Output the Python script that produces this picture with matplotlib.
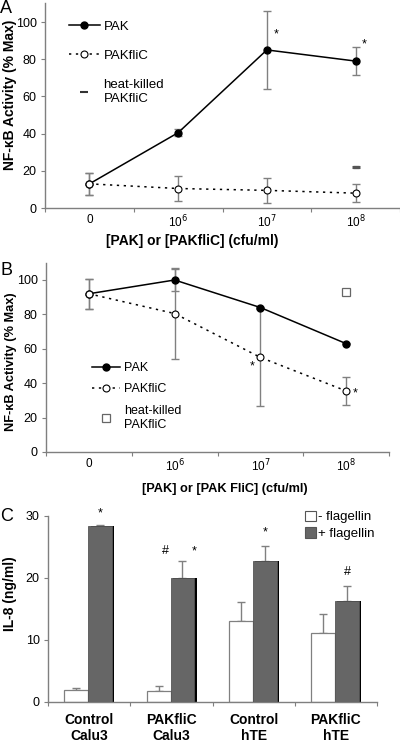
import matplotlib
matplotlib.use('Agg')
import matplotlib.pyplot as plt
import numpy as np
from matplotlib.lines import Line2D
from matplotlib.patches import Patch

plt.rcParams['font.family'] = ['Liberation Sans', 'DejaVu Sans']
plt.rcParams['font.size'] = 9

# ---- data ----
dose_labels = ['0', '10$^6$', '10$^7$', '10$^8$']

# panel A
a_pak = [13, 40.5, 85, 79]
a_pak_err = [6, 2, 21, 7.5]
a_flic = [13, 10.5, 9.5, 8]
a_flic_err = [6, 6.8, 6.8, 5]
a_hk = [22]
a_hk_err = [0.6]

# panel B
b_pak = [92, 100, 84, 63]
b_pak_err = [8.7, 6.5, 0.5, 0.5]
b_flic = [92, 80.5, 55, 35.5]
b_flic_err = [8.7, 26.5, 28, 8]
b_hk = [93]
b_hk_err = [2]

# panel C
c_groups = ['Control\nCalu3', 'PAKfliC\nCalu3', 'Control\nhTE', 'PAKfliC\nhTE']
c_minus = [2.0, 1.7, 13.1, 11.1]
c_minus_err = [0.3, 0.8, 3.0, 3.1]
c_plus = [28.3, 20.0, 22.7, 16.3]
c_plus_err = [0.2, 2.7, 2.4, 2.4]

axis_col = '#7f7f7f'
err_col = '#808080'


def style_axes(ax, ymax, yticks):
    for s in ['top', 'right']:
        ax.spines[s].set_visible(False)
    for s in ['left', 'bottom']:
        ax.spines[s].set_color(axis_col)
        ax.spines[s].set_linewidth(1)
    ax.set_ylim(0, ymax)
    ax.set_yticks(yticks)
    ax.set_xlim(-0.5, 3.5)
    ax.set_xticks([-0.5, 0.5, 1.5, 2.5, 3.5])
    ax.set_xticklabels([])
    ax.tick_params(axis='both', which='major', direction='out', length=3,
                   color=axis_col, labelsize=9, pad=3)
    ax.tick_params(axis='x', which='minor', length=0, pad=4, labelsize=8.5)


def dose_panel(ax, pak, pak_err, flic, flic_err, hk, hk_err, hk_marker, xlabel, lab_fs):
    x = np.arange(len(pak))
    ax.errorbar(x, pak, yerr=pak_err, fmt='none', ecolor=err_col, elinewidth=1,
                capsize=3, zorder=2)
    ax.errorbar(x, flic, yerr=flic_err, fmt='none', ecolor=err_col, elinewidth=1,
                capsize=3, zorder=2)
    ax.plot(x, pak, '-', color='black', lw=1.1, marker='o', ms=5,
            mfc='black', mec='black', zorder=3)
    ax.plot(x, flic, color='black', lw=1.1, ls=(0, (1.5, 3)), marker='o', ms=5,
            mfc='white', mec='black', mew=0.8, zorder=3)
    hx = [3]
    ax.errorbar(hx, hk, yerr=hk_err, fmt='none', ecolor=err_col, elinewidth=1,
                capsize=2.5, zorder=2)
    if hk_marker == '_':
        ax.plot(hx, hk, ls='none', marker='_', ms=6, mew=2.2, color='#555555', zorder=3)
    else:
        ax.plot(hx, hk, ls='none', marker='s', ms=5.5, mfc='white', mec='#666666',
                mew=0.9, zorder=3)
    style_axes(ax, 110, [0, 20, 40, 60, 80, 100])
    ax.set_xticks(x, minor=True)
    ax.set_xticklabels(dose_labels, minor=True)
    ax.set_xlabel(xlabel, fontsize=lab_fs, fontweight='bold')
    ax.set_ylabel('NF-κB Activity (% Max)', fontsize=lab_fs, fontweight='bold')


fig = plt.figure(figsize=(4.0, 7.43), dpi=100)

# ---- panel A ----
axA = fig.add_axes([0.1125, 0.720, 0.8875, 0.2754])
dose_panel(axA, a_pak, a_pak_err, a_flic, a_flic_err, a_hk, a_hk_err, '_',
           '[PAK] or [PAKfliC] (cfu/ml)', 10)
axA.xaxis.set_label_coords(0.414, -0.125)
axA.yaxis.set_label_coords(-0.079, 0.552)
axA.text(2.1, 93.5, '*', ha='center', va='center', fontsize=9)
axA.text(3.1, 88, '*', ha='center', va='center', fontsize=9)
hA = [Line2D([], [], color='black', lw=1.1, marker='o', ms=5, mfc='black'),
      Line2D([], [], color='black', lw=1.1, ls=(0, (1.5, 3)), marker='o', ms=5,
             mfc='white', mew=0.8),
      Line2D([], [], ls='none', marker='_', ms=6, mew=1.5, color='#333333')]
axA.legend(hA, ['PAK', 'PAKfliC', 'heat-killed\nPAKfliC'], loc='upper left',
           bbox_to_anchor=(0.035, 0.975), frameon=False, fontsize=9.5,
           handlelength=2.3, handletextpad=0.3, labelspacing=1.3)
fig.text(0.0, 1.0, 'A', fontsize=13, ha='left', va='top')

# ---- panel B ----
axB = fig.add_axes([0.115, 0.3917, 0.8575, 0.2546])
dose_panel(axB, b_pak, b_pak_err, b_flic, b_flic_err, b_hk, b_hk_err, 's',
           '[PAK] or [PAK FliC] (cfu/ml)', 9.2)
axB.xaxis.set_label_coords(0.52, -0.165)
axB.yaxis.set_label_coords(-0.084, 0.476)
axB.text(1.9, 49.5, '*', ha='center', va='center', fontsize=9)
axB.text(3.1, 34, '*', ha='center', va='center', fontsize=9)
hB = [Line2D([], [], color='black', lw=1.1, marker='o', ms=5, mfc='black'),
      Line2D([], [], color='black', lw=1.1, ls=(0, (1.5, 3)), marker='o', ms=5,
             mfc='white', mew=0.8),
      Line2D([], [], ls='none', marker='s', ms=5.5, mfc='white', mec='#666666', mew=0.9)]
axB.legend(hB, ['PAK', 'PAKfliC', 'heat-killed\nPAKfliC'], loc='upper left',
           bbox_to_anchor=(0.1, 0.535), frameon=False, fontsize=9,
           handlelength=2.3, handletextpad=0.3, labelspacing=0.75)
fig.text(0.0, 0.648, 'B', fontsize=13, ha='left', va='top')

# ---- panel C ----
axC = fig.add_axes([0.12, 0.0552, 0.8225, 0.2507])
xc = np.arange(len(c_groups))
w = 0.29
axC.bar(xc - 0.155, c_minus, w, color='white', edgecolor=err_col, lw=0.9, zorder=2)
axC.errorbar(xc - 0.155, c_minus, yerr=[np.zeros(4), c_minus_err], fmt='none',
             ecolor=err_col, elinewidth=1, capsize=3, zorder=1)
axC.bar(xc + 0.145 + 0.018, c_plus, w, color='black', lw=0, zorder=2)
axC.bar(xc + 0.135, c_plus, w, color='#666666', edgecolor='#555555', lw=0.6, zorder=3)
axC.errorbar(xc + 0.135, c_plus, yerr=[np.zeros(4), c_plus_err], fmt='none',
             ecolor=err_col, elinewidth=1, capsize=3, zorder=1)
style_axes(axC, 30, [0, 10, 20, 30])
axC.set_xticks(xc, minor=True)
axC.set_xticklabels(c_groups, minor=True, fontweight='bold', fontsize=10)
axC.tick_params(axis='x', which='minor', pad=8)
axC.set_ylabel('IL-8 (ng/ml)', fontsize=10, fontweight='bold')
axC.yaxis.set_label_coords(-0.095, 0.58)
axC.text(0.135, 29.4, '*', ha='center', va='bottom', fontsize=9)
axC.text(0.93, 23.3, '#', ha='center', va='bottom', fontsize=9)
axC.text(1.28, 23.3, '*', ha='center', va='bottom', fontsize=9)
axC.text(2.135, 26.3, '*', ha='center', va='bottom', fontsize=9)
axC.text(3.135, 20.0, '#', ha='center', va='bottom', fontsize=9)
hC = [Patch(facecolor='white', edgecolor='#555555', lw=0.8),
      Patch(facecolor='#666666', edgecolor='#555555', lw=0.8)]
axC.legend(hC, ['- flagellin', '+ flagellin'], loc='upper right',
           bbox_to_anchor=(1.03, 1.09), frameon=False, fontsize=9.5,
           handlelength=0.8, handleheight=0.8, handletextpad=0.2, labelspacing=0.3)
fig.text(0.0, 0.316, 'C', fontsize=13, ha='left', va='top')

fig.savefig('out.png', dpi=100)
